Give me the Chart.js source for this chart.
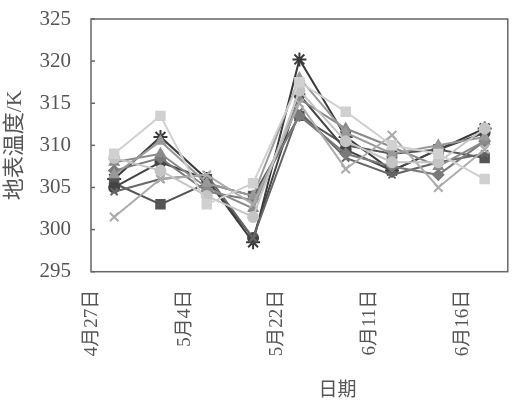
<!DOCTYPE html>
<html>
<head>
<meta charset="utf-8">
<script src="https://cdn.jsdelivr.net/npm/chart.js@4/dist/chart.umd.min.js"></script>
<style>
	html, body { margin: 0; padding: 0; background: #fff; }
	#wrap { width: 518px; height: 407px; }
</style>
</head>
<body>
<div id="wrap"><canvas id="lstChart"></canvas></div>
<script>
const dates = ["4月27日", "", "5月4日", "", "5月22日", "", "6月11日", "", "6月16日"];
const yTicks = [295, 300, 305, 310, 315, 320, 325];

const s1 = [305.5, 303.0, 305.5, 304.0, 313.5, 310.0, 309.0, 309.5, 308.5];
const s2 = [306.0, 311.0, 306.0, 298.5, 320.2, 311.0, 307.0, 309.5, 312.0];
const s3 = [309.0, 313.5, 303.0, 305.5, 317.5, 314.0, 310.0, 309.0, 306.0];
const s4 = [301.5, 306.0, 306.5, 303.0, 315.0, 307.2, 311.2, 305.0, 309.5];
const s5 = [305.0, 308.0, 306.0, 299.0, 316.0, 309.5, 307.0, 309.5, 311.5];
const s6 = [308.0, 309.0, 305.0, 302.5, 315.5, 312.0, 309.8, 307.5, 310.5];
const s7 = [307.0, 308.5, 304.5, 303.5, 313.5, 309.0, 307.5, 306.5, 310.5];
const s8 = [308.5, 307.0, 304.0, 301.5, 316.5, 310.5, 308.0, 308.0, 312.0];
const s9 = [304.5, 306.0, 306.5, 299.0, 314.0, 308.5, 306.5, 308.0, 309.0];
const s10 = [306.5, 310.5, 305.5, 304.0, 318.0, 311.5, 309.0, 310.0, 311.0];

const textFont = "'Liberation Serif', 'Noto Sans CJK SC', serif";

function series(values, color, marker, size) {
	return {
		data: values,
		borderColor: color,
		backgroundColor: color,
		borderWidth: 2,
		pointStyle: marker,
		pointRadius: size,
		pointBorderWidth: 2,
		tension: 0
	};
}

// frame round the plot + inward y tick marks
const framePlugin = {
	id: "frame",
	afterDraw(chart) {
		const { ctx, chartArea: a, scales } = chart;
		ctx.save();
		ctx.strokeStyle = "#666";
		ctx.lineWidth = 1.5;
		ctx.strokeRect(a.left, a.top, a.right - a.left, a.bottom - a.top);
		yTicks.forEach((t) => {
			const y = scales.y.getPixelForValue(t);
			ctx.beginPath();
			ctx.moveTo(a.left, y);
			ctx.lineTo(a.left + 4, y);
			ctx.stroke();
		});
		ctx.restore();
	}
};

new Chart(document.getElementById("lstChart"), {
	type: "line",
	data: {
		labels: dates,
		datasets: [
			series(s3, "#d0d0d0", "rect", 6),
			series(s8, "#c4c4c4", "circle", 5),
			series(s4, "#ababab", "crossRot", 6),
			series(s10, "#999", "triangle", 5),
			series(s6, "#8a8a8a", "triangle", 5),
			series(s7, "#7a7a7a", "rectRot", 5),
			series(s9, "#666", "crossRot", 5),
			series(s5, "#444", "circle", 5),
			series(s1, "#555", "rect", 6),
			series(s2, "#3a3a3a", "star", 7)
		]
	},
	options: {
		responsive: true,
		maintainAspectRatio: false,
		animation: false,
		layout: {
			padding: { left: 2, right: 10, top: 19, bottom: 5 }
		},
		plugins: {
			legend: { display: false },
			tooltip: { enabled: false }
		},
		scales: {
			x: {
				type: "category",
				offset: true,
				grid: { display: false },
				border: { display: false },
				ticks: {
					autoSkip: false,
					minRotation: 90,
					maxRotation: 90,
					padding: 10,
					labelOffset: -22,
					color: "#555",
					font: { family: textFont, size: 19 }
				},
				title: {
					display: true,
					text: "\u3000\u3000\u3000\u3000日期",
					color: "#555",
					padding: { top: 13, bottom: 0 },
					font: { family: textFont, size: 19 }
				}
			},
			y: {
				min: 295,
				max: 325,
				grid: { display: false },
				border: { display: false },
				afterBuildTicks(scale) {
					scale.ticks = yTicks.map((v) => ({ value: v }));
				},
				afterFit(scale) {
					scale.width = 89;
					scale.paddingTop = 0;
					scale.paddingBottom = 0;
				},
				ticks: {
					padding: 12,
					color: "#555",
					font: { family: textFont, size: 21 }
				},
				title: {
					display: true,
					text: "地表温度/K",
					color: "#555",
					padding: { top: 0, bottom: 0 },
					font: { family: textFont, size: 22 }
				}
			}
		}
	},
	plugins: [framePlugin]
});
</script>
</body>
</html>
